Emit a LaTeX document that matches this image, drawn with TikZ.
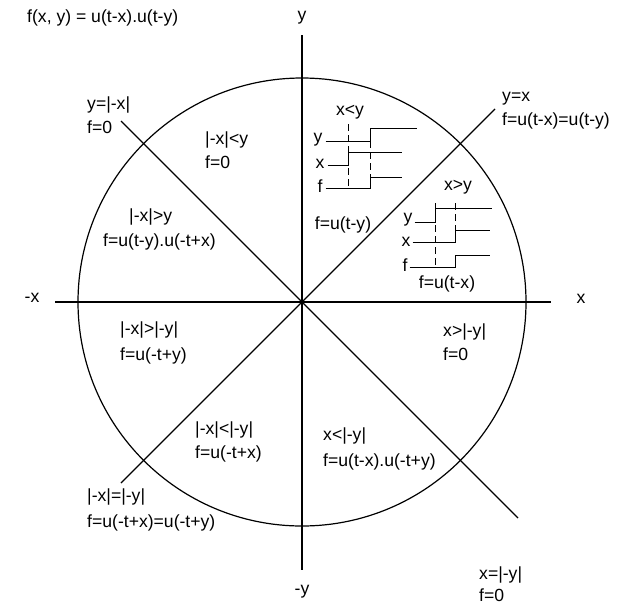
\documentclass[tikz,border=0pt]{standalone}
\usepackage{fontspec}
\setmainfont{Liberation Sans}
\usetikzlibrary{positioning}
\tikzset{
  lbl/.style={font=\fontsize{17.6}{20}\selectfont, inner sep=1pt},
  txt/.style={lbl, anchor=base west},
  axis/.style={line width=1.2pt},
  wave/.style={line width=0.9pt},
  timemark/.style={line width=0.9pt, dash pattern=on 7pt off 4pt}
}
\begin{document}
\begin{tikzpicture}[x=1pt, y=-1pt]
  \useasboundingbox (0,0) rectangle (617,605);
  \coordinate (o) at (302,302);

  \node[txt] (fxy) at (26,22) {f(x, y) = u(t-x).u(t-y)};

  % axes and circle
  \node[lbl] (ylab) at (302,18) {y};
  \node[lbl] (nylab) at (302,592) {-y};
  \node[lbl] (xlab) at (581,299) {x};
  \node[lbl] (nxlab) at (32,298) {-x};
  \coordinate (ytop) at (302,35);
  \coordinate (ybot) at (302,570);
  \coordinate (xleft) at (55,302);
  \coordinate (xright) at (551,302);
  \coordinate (dne) at (495,109);
  \coordinate (dsw) at (121,483);
  \coordinate (dnw) at (121,121);
  \coordinate (dse) at (518,518);
  \draw[axis] (ytop) -- (ybot);
  \draw[axis] (xleft) -- (xright);
  \draw[axis] (dsw) -- (dne);
  \draw[axis] (dnw) -- (dse);
  \draw[axis] (o) circle[radius=224];

  % boundary labels
  \node[txt] (bnw) at (86,109) {y=|-x|};
  \node[txt] (bnwf) at ([yshift=-24pt]bnw.base west) {f=0};
  \node[txt] (bne) at (501,101) {y=x};
  \node[txt] (bnef) at ([yshift=-24pt]bne.base west) {f=u(t-x)=u(t-y)};
  \node[txt] (bsw) at (86,501) {|-x|=|-y|};
  \node[txt] (bswf) at ([yshift=-26pt]bsw.base west) {f=u(-t+x)=u(-t+y)};
  \node[txt] (bse) at (478,579) {x=|-y|};
  \node[txt] (bsef) at ([yshift=-22pt]bse.base west) {f=0};

  % sector labels
  \node[txt] (s1) at (204,144) {|-x|<y};
  \node[txt] (s1f) at ([yshift=-24pt]s1.base west) {f=0};
  \node[txt] (s2) at (128,221) {|-x|>y};
  \node[txt] (s2f) at (102,246) {f=u(t-y).u(-t+x)};
  \node[txt] (s3) at (119,334) {|-x|>|-y|};
  \node[txt] (s3f) at ([yshift=-26pt]s3.base west) {f=u(-t+y)};
  \node[txt] (s4) at (194,434) {|-x|<|-y|};
  \node[txt] (s4f) at ([yshift=-24pt]s4.base west) {f=u(-t+x)};
  \node[txt] (s5) at (322,440) {x<|-y|};
  \node[txt] (s5f) at ([yshift=-26pt]s5.base west) {f=u(t-x).u(-t+y)};
  \node[txt] (s6) at (442,336) {x>|-y|};
  \node[txt] (s6f) at ([yshift=-24pt]s6.base west) {f=0};

  % x<y timing
  \node[lbl] (wa) at (350,112) {x<y};
  \node[lbl] (way) at (318,140) {y};
  \node[lbl] (wax) at (320,164) {x};
  \node[lbl] (waf) at (320,186) {f};
  \node[lbl] (waout) at (343,225) {f=u(t-y)};
  \draw[wave] (way.east) ++(2,1) -- (370,141) -- (370,128) -- (417,128);
  \draw[wave] (wax.east) ++(2,1) -- (348,165) -- (348,152) -- (402,152);
  \draw[wave] (waf.east) ++(2,2) -- (370,188) -- (370,177) -- (402,177);
  \draw[timemark] (348,124) -- (348,188);
  \draw[timemark] (370,141) -- (370,177);

  % x>y timing
  \node[lbl] (wb) at (458,187) {x>y};
  \node[lbl] (wby) at (408,220) {y};
  \node[lbl] (wbx) at (406,242) {x};
  \node[lbl] (wbf) at (405,265) {f};
  \node[lbl] (wbout) at (447,284) {f=u(t-x)};
  \draw[wave] (wby.east) ++(1,2) -- (435,222) -- (435,208) -- (492,208);
  \draw[wave] (wbx.east) ++(1,0) -- (455,242) -- (455,230) -- (490,230);
  \draw[wave] (wbf.east) ++(1,2) -- (455,267) -- (455,255) -- (490,255);
  \draw[timemark] (435,203) -- (435,267);
  \draw[timemark] (455,203) -- (455,230);
\end{tikzpicture}
\end{document}
